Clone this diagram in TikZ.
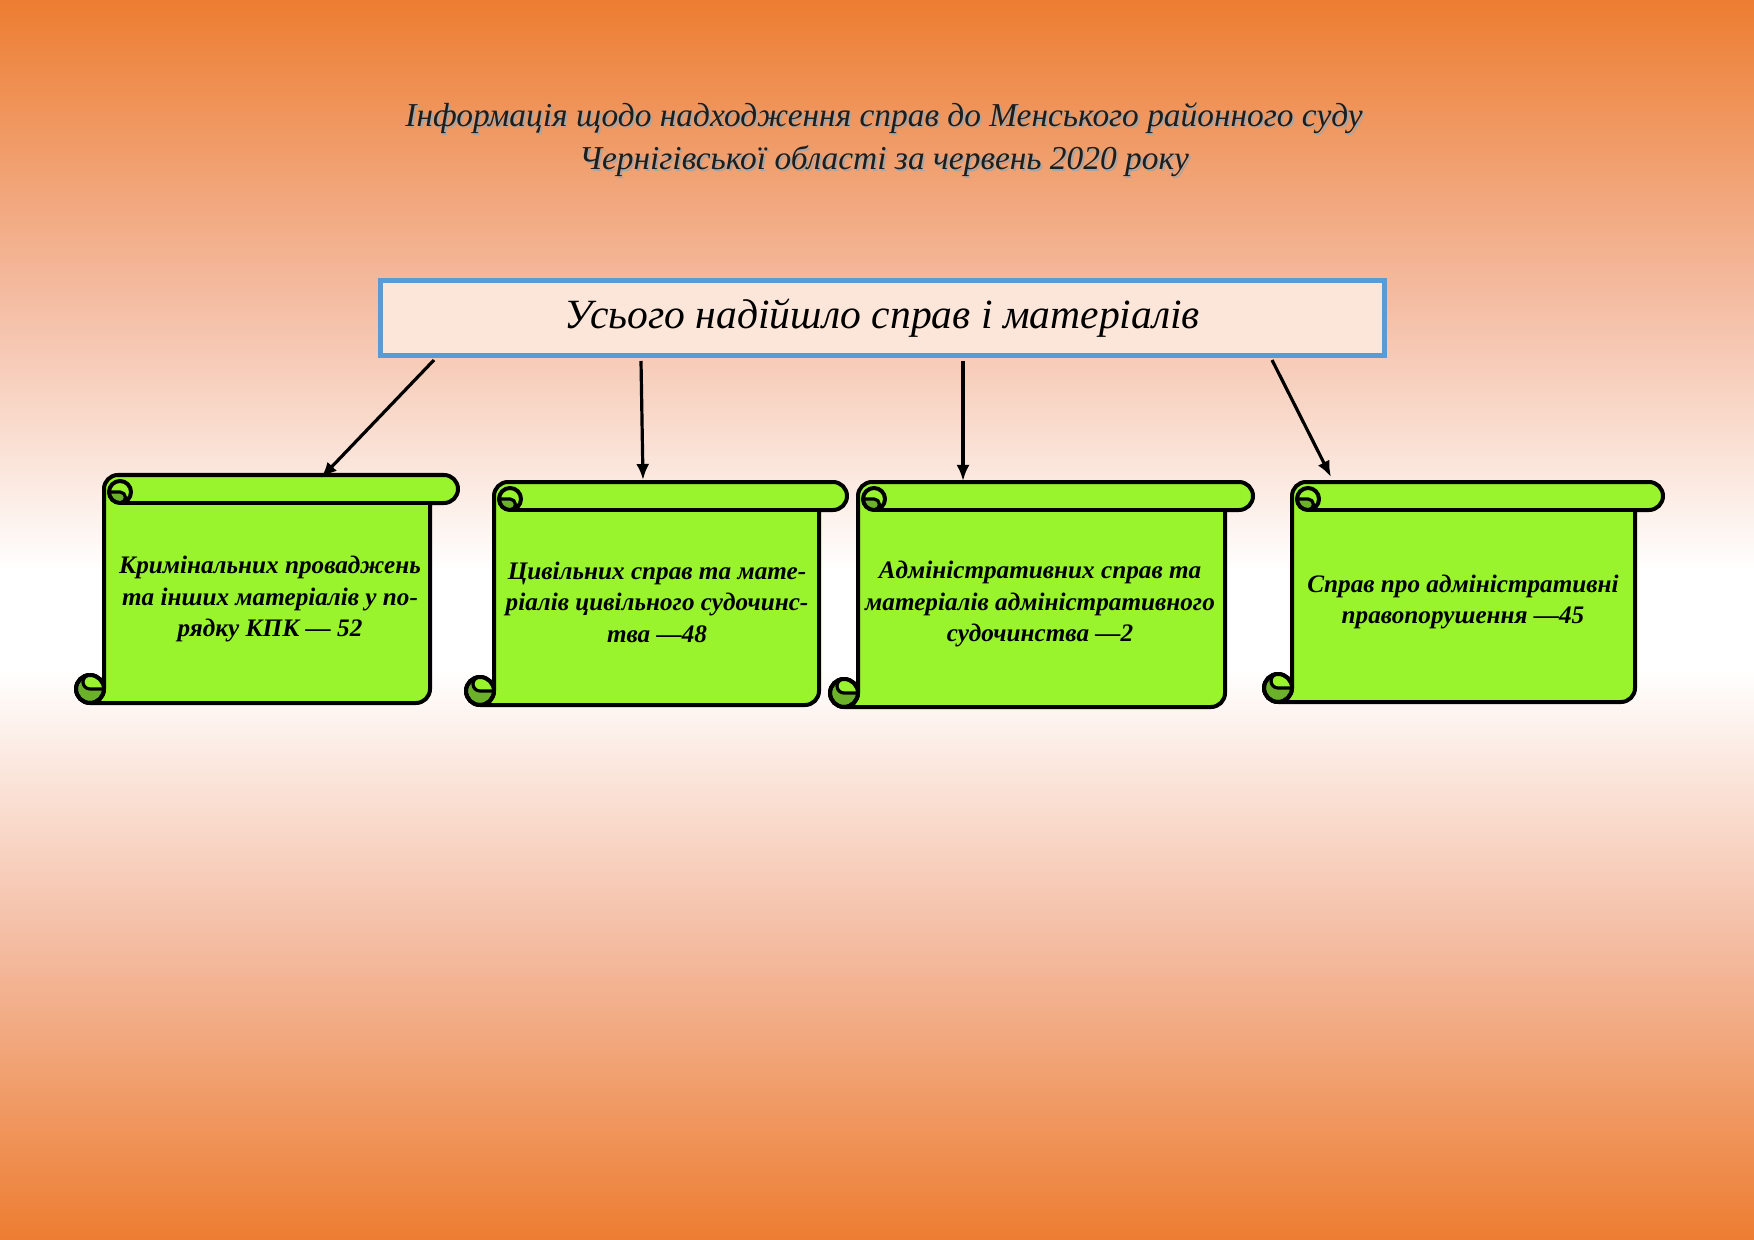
\documentclass[tikz,border=0pt]{standalone}
\usepackage{fontspec}
\setmainfont{Liberation Serif}
\usetikzlibrary{arrows.meta}
\definecolor{bgorange}{RGB}{237,125,49}
\definecolor{bgsalmon}{RGB}{244,188,162}
\definecolor{scrollgreen}{RGB}{153,244,46}
\definecolor{curlgreen}{RGB}{107,178,42}
\definecolor{boxfill}{RGB}{252,230,218}
\definecolor{boxblue}{RGB}{91,155,213}
\definecolor{titleink}{RGB}{30,30,30}
\pgfdeclareverticalshading{bgshade}{100bp}{color(0bp)=(bgorange); color(25bp)=(bgorange); color(37bp)=(bgsalmon); color(48bp)=(white); color(52bp)=(white); color(63bp)=(bgsalmon); color(75bp)=(bgorange); color(100bp)=(bgorange)}
\tikzset{
  scrollline/.style={draw=black, line width=2pt, line join=round},
  thinline/.style={draw=black, line width=1.6pt, line join=round},
  conn/.style={draw=black, line width=1.6pt, -{Latex[length=8pt,width=6.5pt]}},
  mainbox/.style={draw=boxblue, line width=2.5pt, fill=boxfill, minimum width=502pt, minimum height=37.5pt, inner sep=0pt, font=\fontsize{20.8}{24}\selectfont\itshape},
  scrolltext/.style={align=center, inner sep=0pt, font=\fontsize{12.6}{15.7}\selectfont\bfseries\itshape},
  titletext/.style={align=center, inner sep=0pt, text=titleink, font=\fontsize{16.7}{21.5}\selectfont\itshape},
  titleshadow/.style={titletext, text=black!35}
}
\newcommand\scrollpic[4]{%
  \draw[scrollline, fill=scrollgreen] (#1+28,#4-14) -- (#1+28,#2+14)
     arc[start angle=180,end angle=270,radius=14] -- (#3-14,#2)
     arc[start angle=270,end angle=450,radius=14] -- (#3-28,#2+28) -- (#3-28,#4-14)
     arc[start angle=0,end angle=90,radius=14] -- (#1+14,#4) -- cycle;
  \draw[scrollline] (#1+44,#2+28) -- (#3-28,#2+28);
  \draw[thinline, fill=curlgreen] (#1+33,#2+17) arc[start angle=180,end angle=90,radius=11]
     arc[start angle=90,end angle=-90,radius=5.5] -- cycle;
  \draw[scrollline] (#1+44,#2+17) circle[radius=11];
  \draw[scrollline, fill=curlgreen] (#1+14,#4-14) circle[radius=14];
  \draw[thinline, fill=scrollgreen] (#1+14,#4-28) arc[start angle=270,end angle=90,radius=7]
     -- (#1+28,#4-14) arc[start angle=0,end angle=-90,radius=14] -- cycle;
  \draw[scrollline] (#1+14,#4-14) circle[radius=14];
}
\begin{document}
\begin{tikzpicture}[x=0.5pt,y=-0.5pt]
\useasboundingbox (0,0) rectangle (1754,1240);
\shade[shading=bgshade] (0,0) rectangle (1754,1240);

% title
\node[titleshadow] (titleshadow) at (886,142) {Інформація щодо надходження справ до Менського районного суду\\Чернігівської області за червень 2020 року};
\node[titletext] (title) at (884,140) {Інформація щодо надходження справ до Менського районного суду\\Чернігівської області за червень 2020 року};

% main box
\node[mainbox] (main) at (882,318.5) {Усього надійшло справ і матеріалів};

% scrolls
\scrollpic{76}{475}{458}{703}
\scrollpic{466}{482}{847}{705}
\scrollpic{830}{482}{1253}{707}
\scrollpic{1264}{482}{1663}{702}

\node[scrolltext] (s1) at (270,599) {Кримінальних проваджень\\та інших матеріалів у по-\\рядку КПК — 52};
\node[scrolltext] (s2) at (657,602) {Цивільних справ та мате-\\ріалів цивільного судочинс-\\тва —48};
\node[scrolltext] (s3) at (1040,604) {Адміністративних справ та\\матеріалів адміністративного\\судочинства —2};
\node[scrolltext] (s4) at (1463,602) {Справ про адміністративні\\правопорушення —45};

% connectors
\coordinate (a1) at (434,360);
\coordinate (b1) at (321,478);
\coordinate (a2) at (641,361);
\coordinate (b2) at (643,480);
\coordinate (a3) at (963,361);
\coordinate (b3) at (963,481);
\coordinate (a4) at (1272,360);
\coordinate (b4) at (1331,477);
\draw[conn] (a1) -- (b1);
\draw[conn] (a2) -- (b2);
\draw[conn] (a3) -- (b3);
\draw[conn] (a4) -- (b4);
\end{tikzpicture}
\end{document}
